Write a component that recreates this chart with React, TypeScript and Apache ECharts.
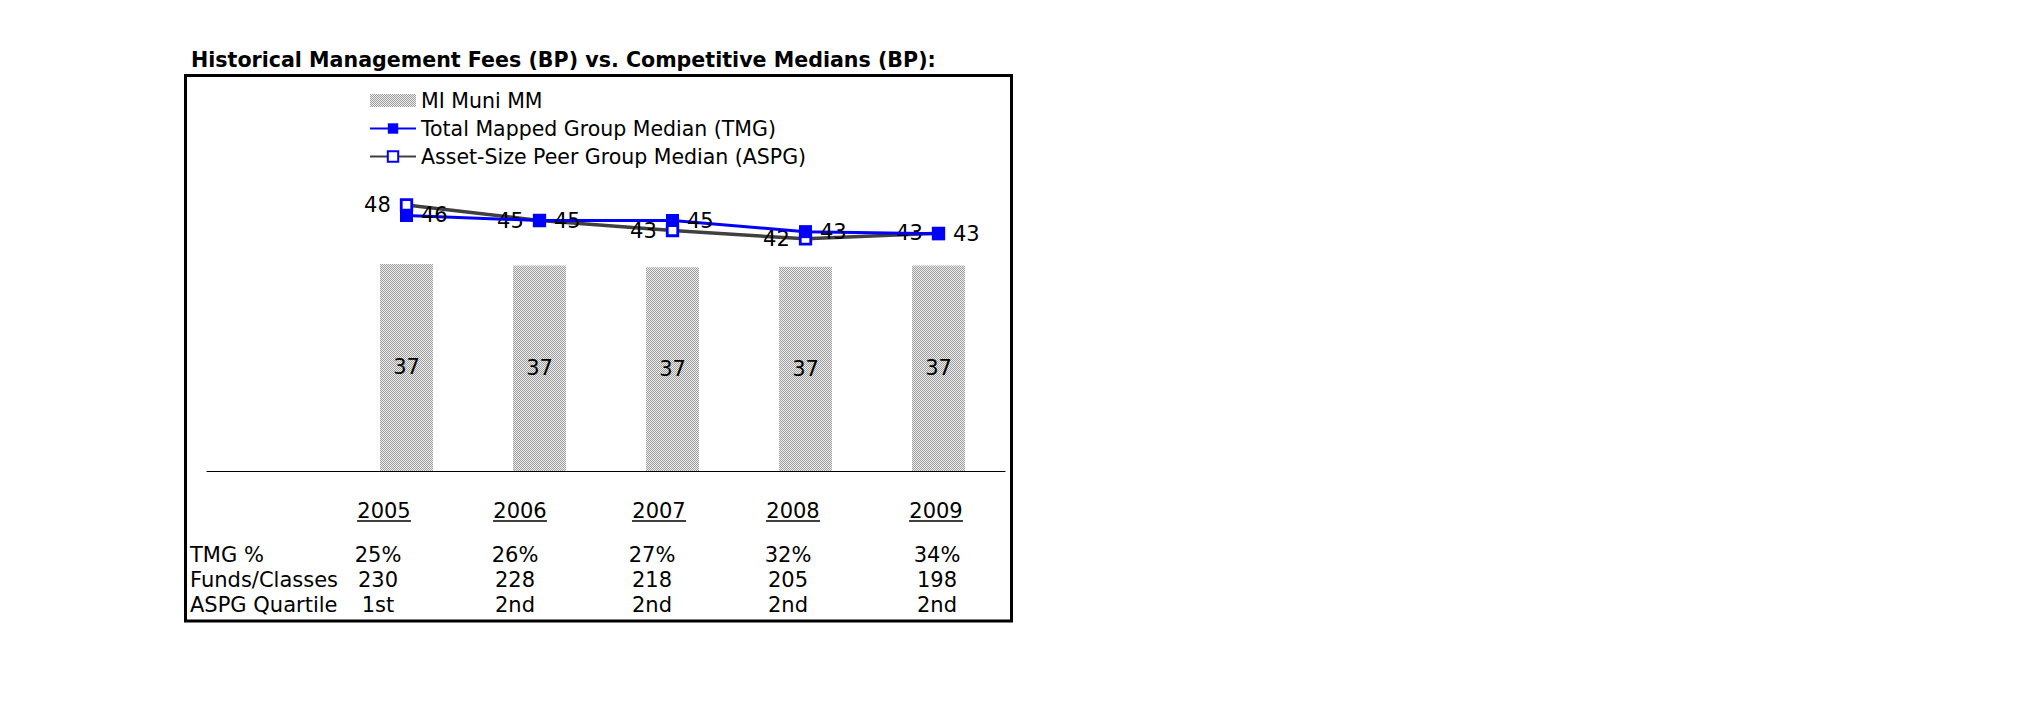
import React, { useEffect, useRef } from "react";
import * as echarts from "echarts";

const categories = ["2005", "2006", "2007", "2008", "2009"];
const miMuniMM = [37.2, 36.9, 36.6, 36.7, 36.9];
const tmgMedian = [45.9, 45.0, 45.0, 43.0, 42.6];
const aspgMedian = [47.8, 45.0, 43.2, 41.7, 42.7];
const tmgPct = ["25%", "26%", "27%", "32%", "34%"];
const fundsClasses = ["230", "228", "218", "205", "198"];
const aspgQuartile = ["1st", "2nd", "2nd", "2nd", "2nd"];
const rowLabels = ["TMG %", "Funds/Classes", "ASPG Quartile"];

const FONT = "DejaVu Sans";

function makePattern() {
  const c = document.createElement("canvas");
  c.width = 4;
  c.height = 4;
  const ctx = c.getContext("2d")!;
  ctx.fillStyle = "#efefef";
  ctx.fillRect(0, 0, 4, 4);
  ctx.fillStyle = "#9c9c9c";
  for (let y = 0; y < 4; y++) {
    for (let x = 0; x < 4; x++) {
      if ((x + y) % 2 === 0) ctx.fillRect(x, y, 1, 1);
    }
  }
  return { image: c, repeat: "repeat", imageWidth: 4, imageHeight: 4 } as any;
}

export default function App() {
  const ref = useRef<HTMLDivElement>(null);
  useEffect(() => {
    if (!ref.current) return;
    const chart = echarts.init(ref.current, undefined, { renderer: "svg" });
    const pattern = makePattern();
    const round = (p: any) => String(Math.round(Number(p.value)));
    const withBlank = (arr: number[]) => ["-", ...arr];

    const yearX = [384, 520, 659, 793, 936];
    const valX = [378, 515, 652, 788, 937];
    const rowY = [555, 580, 605];
    const rows = [tmgPct, fundsClasses, aspgQuartile];

    const graphics: any[] = [
      {
        type: "text",
        left: 191,
        top: 49,
        style: {
          text: "Historical Management Fees (BP) vs. Competitive Medians (BP):",
          font: `bold 20.6px '${FONT}'`,
          fill: "#000",
        },
      },
      {
        type: "rect",
        shape: { x: 185.5, y: 75.5, width: 826, height: 545.5 },
        style: { fill: "none", stroke: "#000", lineWidth: 3 },
      },
    ];
    rowLabels.forEach((t, i) => {
      graphics.push({
        type: "text",
        x: 190,
        y: rowY[i],
        style: {
          text: t,
          font: `21px '${FONT}'`,
          fill: "#000",
          textAlign: "left",
          textVerticalAlign: "middle",
        },
      });
    });
    categories.forEach((yr, i) => {
      graphics.push({
        type: "text",
        x: yearX[i],
        y: 511,
        style: {
          text: yr,
          font: `21px '${FONT}'`,
          fill: "#000",
          textAlign: "center",
          textVerticalAlign: "middle",
        },
      });
      graphics.push({
        type: "line",
        shape: { x1: yearX[i] - 27, y1: 521, x2: yearX[i] + 27, y2: 521 },
        style: { stroke: "#000", lineWidth: 1.5 },
      });
      rows.forEach((r, j) => {
        graphics.push({
          type: "text",
          x: valX[i],
          y: rowY[j],
          style: {
            text: r[i],
            font: `21px '${FONT}'`,
            fill: "#000",
            textAlign: "center",
            textVerticalAlign: "middle",
          },
        });
      });
    });

    const option: any = {
      animation: false,
      backgroundColor: "#fff",
      textStyle: { fontFamily: FONT },
      legend: {
        orient: "vertical",
        left: 364,
        top: 85,
        itemWidth: 46,
        itemHeight: 13,
        itemGap: 7,
        data: [
          { name: "MI Muni MM", icon: "rect" },
          "Total Mapped Group Median (TMG)",
          "Asset-Size Peer Group Median (ASPG)",
        ],
        textStyle: { fontFamily: FONT, fontSize: 20.5, lineHeight: 21, color: "#000", padding: [0, 0, 0, 0] },
      },
      grid: { left: 207, width: 798, top: 137, height: 334, containLabel: false },
      xAxis: {
        type: "category",
        data: ["", ...categories],
        boundaryGap: true,
        axisLine: { show: true, lineStyle: { color: "#000", width: 1.2 } },
        axisTick: { show: false },
        axisLabel: { show: false },
        splitLine: { show: false },
      },
      yAxis: {
        type: "value",
        min: 0,
        max: 60,
        show: false,
        splitLine: { show: false },
      },
      series: [
        {
          name: "MI Muni MM",
          type: "bar",
          data: withBlank(miMuniMM),
          barWidth: 53,
          itemStyle: { color: pattern },
          label: {
            show: true,
            position: "inside",
            formatter: round,
            color: "#000",
            fontFamily: FONT,
            fontSize: 21,
          },
          z: 1,
        },
        {
          name: "Asset-Size Peer Group Median (ASPG)",
          type: "line",
          data: withBlank(aspgMedian),
          symbol: "rect",
          symbolSize: 10.5,
          showAllSymbol: true,
          lineStyle: { color: "#404040", width: 3.5 },
          itemStyle: { color: "#fff", borderColor: "#0000FF", borderWidth: 2.8 },
          label: {
            show: true,
            position: "left",
            distance: 9,
            formatter: round,
            color: "#000",
            fontFamily: FONT,
            fontSize: 21,
          },
          z: 3,
        },
        {
          name: "Total Mapped Group Median (TMG)",
          type: "line",
          data: withBlank(tmgMedian),
          symbol: "rect",
          symbolSize: 13,
          showAllSymbol: true,
          lineStyle: { color: "#0000FF", width: 3 },
          itemStyle: { color: "#0000FF", borderWidth: 0 },
          label: {
            show: true,
            position: "right",
            distance: 8,
            formatter: round,
            color: "#000",
            fontFamily: FONT,
            fontSize: 21,
          },
          z: 4,
        },
      ],
      graphic: graphics,
    };
    chart.setOption(option);
    return () => chart.dispose();
  }, []);
  return (
    <div
      ref={ref}
      style={{ position: "absolute", left: 0, top: 0, width: 2025, height: 717 }}
    />
  );
}
